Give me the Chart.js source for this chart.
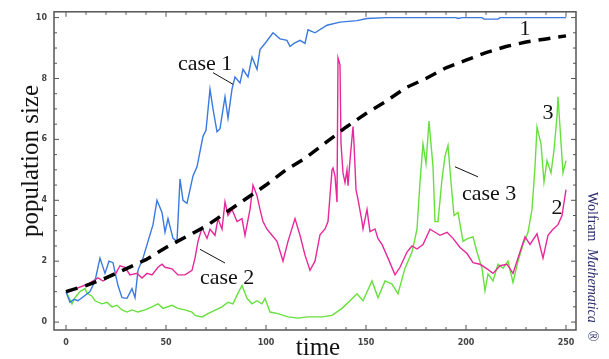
<!DOCTYPE html>
<html>
<head>
<meta charset="utf-8">
<script src="https://cdn.jsdelivr.net/npm/chart.js@4.4.1/dist/chart.umd.min.js"></script>
<style>
  body { margin: 0; background: #fff; }
  canvas { display: block; }
</style>
</head>
<body>
<canvas id="popChart" width="609" height="359"></canvas>
<script>
// values
const xTicks = [0, 50, 100, 150, 200, 250];
const yTicks = [0, 2, 4, 6, 8, 10];

const meanT = [0, 10, 20, 30, 40, 50, 60, 70, 80, 90, 100, 110, 120, 130, 140, 150, 160, 170, 180, 190, 200, 210, 220, 230, 240, 250];
const meanY = [1.0, 1.2, 1.45, 1.75, 2.05, 2.45, 2.8, 3.15, 3.6, 4.05, 4.5, 5.0, 5.4, 5.9, 6.4, 6.85, 7.25, 7.7, 8.0, 8.35, 8.6, 8.85, 9.05, 9.2, 9.3, 9.4];

const case1T = [0, 2, 4, 6, 9, 12, 14.5, 17, 19.5, 21.5, 23.5, 26, 28, 30.5, 33, 34.5, 36, 38.5, 41, 43.5, 45.5, 48, 49.5, 51, 53.5, 55.5, 57, 58.5, 60.5, 62, 63.5, 65.5, 68.5, 70, 72, 73.5, 75.5, 77, 79.5, 81, 83, 84.5, 87, 88.5, 91, 93, 95.5, 97, 99.5, 103.5, 107, 110.5, 112, 114, 117, 119.5, 121, 124.5, 130.5, 137, 145.5, 150.5, 160, 195, 196, 198, 208, 209, 216, 217, 250];
const case1Y = [1.0, 0.65, 0.75, 0.7, 0.85, 1.0, 1.35, 2.1, 1.6, 2.0, 1.95, 1.2, 0.8, 0.78, 1.1, 0.8, 1.7, 2.1, 2.65, 3.2, 4.0, 3.6, 2.95, 3.4, 2.75, 2.65, 4.7, 4.0, 3.9, 4.35, 4.8, 5.1, 6.1, 6.3, 7.65, 7.0, 6.25, 6.35, 7.4, 6.7, 7.65, 8.05, 7.85, 8.3, 8.05, 8.7, 8.3, 8.95, 9.15, 9.5, 9.3, 9.25, 9.05, 9.15, 9.25, 9.15, 9.6, 9.5, 9.75, 9.85, 9.9, 9.97, 10, 10, 9.97, 10, 10, 9.95, 9.95, 10, 10];

const case2T = [0.5, 5, 11, 16, 18.5, 21, 24.5, 27, 29.5, 32, 35.5, 38, 40.5, 43, 46, 48, 49.5, 53, 56, 59.5, 63, 64.5, 66, 68, 70.5, 72, 74.5, 76, 78, 79.5, 81, 83, 85.5, 88, 89.5, 92, 93.5, 95.5, 97, 98.5, 100.5, 103, 105.5, 108.5, 111, 114.5, 117, 119.5, 122, 124.5, 127, 129.5, 131, 133, 133.5, 134.5, 135.5, 136, 137, 137.5, 138.5, 139.5, 140.5, 141, 142, 143.5, 144, 145, 146, 148, 148.5, 150.5, 152, 154.5, 156, 158, 161, 164.5, 167, 170.5, 173, 175.5, 178.5, 182, 184.5, 187, 190.5, 193.5, 197, 200.5, 203.5, 207, 210.5, 213.5, 217, 220.5, 223.5, 227, 229.5, 232, 235.5, 238.5, 241, 243.5, 246, 248, 250];
const case2Y = [0.97, 1.1, 1.25, 1.45, 1.35, 1.45, 1.55, 1.85, 1.8, 1.55, 1.6, 1.45, 1.6, 1.55, 1.8, 1.9, 1.8, 1.75, 1.55, 1.55, 1.7, 2.1, 2.65, 3.1, 2.75, 3.05, 2.85, 3.4, 3.05, 3.95, 3.5, 3.7, 3.3, 3.4, 2.85, 3.7, 4.5, 4.15, 3.7, 3.3, 3.05, 2.85, 2.65, 2.0, 2.65, 3.4, 2.85, 2.2, 1.7, 2.0, 2.87, 3.06, 3.3, 5.0, 5.06, 4.8, 3.94, 8.68, 8.45, 5.87, 4.9, 4.58, 5.0, 4.48, 5.32, 6.42, 5.87, 4.35, 4.03, 3.3, 3.06, 3.7, 2.97, 3.06, 2.74, 2.55, 2.1, 1.55, 1.8, 2.3, 2.5, 2.4, 2.55, 3.05, 2.95, 2.85, 2.95, 2.75, 2.45, 2.25, 1.95, 1.9, 1.75, 1.6, 1.85, 1.9, 1.6, 2.3, 2.8, 2.55, 2.9, 2.1, 2.85, 3.05, 3.2, 3.5, 4.35];

const case3T = [0, 3, 4.5, 7, 9.5, 10.5, 13, 14.5, 18, 20.5, 23, 25.5, 28, 30.5, 33, 36, 39.5, 43, 46, 48.5, 53, 56, 59.5, 63, 64.5, 68, 71, 78, 81, 83.5, 86, 88, 90.5, 93, 95.5, 98, 99.5, 102, 106, 111, 116, 121, 128, 133, 138, 142, 145.5, 148.5, 153, 156, 159.5, 163, 166, 169.5, 173, 175.5, 177, 178.5, 180, 181.5, 183.5, 184.5, 186, 188, 189.5, 191, 192.5, 194, 196, 198.5, 201, 203.5, 205.5, 208, 209.5, 211, 213.5, 216, 218.5, 221, 223.5, 226, 228.5, 231, 233, 234.5, 235.5, 237.5, 239, 240.5, 242.5, 244, 245.5, 246, 247, 248.5, 250];
const case3Y = [1.0, 0.6, 0.8, 1.0, 1.1, 0.95, 0.85, 0.7, 0.6, 0.65, 0.5, 0.55, 0.4, 0.33, 0.4, 0.33, 0.4, 0.5, 0.6, 0.45, 0.55, 0.45, 0.4, 0.33, 0.22, 0.17, 0.28, 0.5, 0.65, 0.6, 0.95, 1.2, 0.78, 0.6, 0.7, 0.6, 0.78, 0.33, 0.28, 0.17, 0.13, 0.17, 0.17, 0.22, 0.45, 0.7, 0.93, 0.7, 1.35, 0.8, 1.35, 1.25, 0.93, 1.77, 2.3, 3.05, 4.6, 5.85, 5.2, 6.6, 5.1, 3.3, 3.3, 4.7, 5.45, 5.8, 4.6, 3.5, 3.6, 2.65, 2.75, 2.8, 2.3, 1.77, 1.03, 1.58, 1.35, 1.9, 1.77, 2.0, 1.3, 2.0, 2.55, 2.95, 3.7, 5.1, 6.4, 5.85, 4.6, 5.3, 4.9, 5.65, 6.75, 7.4, 6.4, 4.9, 5.3];

const toPoints = (ts, ys) => ts.map((t, i) => ({ x: t, y: ys[i] }));

// text labels placed in data coordinates
const notes = [
    { text: 'case 1', x: 56, y: 8.29, align: 'left' },
    { text: 'case 2', x: 67, y: 1.26, align: 'left' },
    { text: 'case 3', x: 198, y: 4.0, align: 'left' },
    { text: '1', x: 229.5, y: 9.42, align: 'center' },
    { text: '3', x: 241, y: 6.68, align: 'center' },
    { text: '2', x: 245.5, y: 3.55, align: 'center' }
];
const leaders = [
    [73.5, 8.19, 83.5, 7.81],
    [67, 2.39, 79.5, 1.94],
    [194.5, 5.1, 206, 4.77]
];

const serif = '"Liberation Serif", "Times New Roman", serif';

const framePlugin = {
    id: 'frame',
    afterDraw(chart) {
        const { ctx, chartArea: a, scales } = chart;
        const xs = scales.x, ys = scales.y;
        ctx.save();

        // frame
        ctx.strokeStyle = '#555';
        ctx.lineWidth = 1.5;
        ctx.strokeRect(a.left, a.top, a.right - a.left, a.bottom - a.top);

        // inward ticks
        ctx.lineWidth = 1;
        for (let t = 0; t <= 250; t += 10) {
            const px = xs.getPixelForValue(t);
            const len = t % 50 === 0 ? 5 : 3;
            ctx.beginPath();
            ctx.moveTo(px, a.bottom); ctx.lineTo(px, a.bottom - len);
            ctx.moveTo(px, a.top); ctx.lineTo(px, a.top + len);
            ctx.stroke();
        }
        for (let v = 0; v <= 10; v += 0.5) {
            const py = ys.getPixelForValue(v);
            const len = v % 2 === 0 ? 5 : 3;
            ctx.beginPath();
            ctx.moveTo(a.left, py); ctx.lineTo(a.left + len, py);
            ctx.moveTo(a.right, py); ctx.lineTo(a.right - len, py);
            ctx.stroke();
        }

        // axis titles
        ctx.fillStyle = '#111';
        ctx.font = '25px ' + serif;
        ctx.textAlign = 'center';
        ctx.textBaseline = 'alphabetic';
        ctx.fillText('time', (a.left + a.right) / 2 + 3, 355);
        ctx.save();
        ctx.translate(38, 161);
        ctx.rotate(-Math.PI / 2);
        ctx.fillText('population size', 0, 0);
        ctx.restore();

        // annotations
        ctx.font = '22px ' + serif;
        notes.forEach(n => {
            ctx.textAlign = n.align;
            ctx.fillText(n.text, xs.getPixelForValue(n.x), ys.getPixelForValue(n.y));
        });
        ctx.strokeStyle = '#111';
        ctx.lineWidth = 1;
        leaders.forEach(l => {
            ctx.beginPath();
            ctx.moveTo(xs.getPixelForValue(l[0]), ys.getPixelForValue(l[1]));
            ctx.lineTo(xs.getPixelForValue(l[2]), ys.getPixelForValue(l[3]));
            ctx.stroke();
        });

        // vertical credit
        ctx.save();
        ctx.translate(588, 192);
        ctx.rotate(Math.PI / 2);
        ctx.fillStyle = '#2b2d6e';
        ctx.textAlign = 'left';
        let cx = 0;
        ctx.font = '14px ' + serif;
        ctx.fillText('Wolfram ', cx, 0);
        cx += ctx.measureText('Wolfram ').width + 4;
        ctx.font = 'italic 14px ' + serif;
        ctx.fillText('Mathematica', cx, 0);
        cx += ctx.measureText('Mathematica').width + 8;
        ctx.font = '14px ' + serif;
        ctx.fillText('\u00AE', cx, 0);
        ctx.restore();

        ctx.restore();
    }
};

const ctx = document.getElementById('popChart');
new Chart(ctx, {
    type: 'line',
    data: {
        datasets: [
            { label: 'mean', data: toPoints(meanT, meanY), borderColor: '#000', borderWidth: 3.5, borderDash: [12, 8], borderCapStyle: 'butt' },
            { label: 'case 1', data: toPoints(case1T, case1Y), borderColor: '#3a7ae0', borderWidth: 1.4 },
            { label: 'case 2', data: toPoints(case2T, case2Y), borderColor: '#e6289a', borderWidth: 1.4 },
            { label: 'case 3', data: toPoints(case3T, case3Y), borderColor: '#66e03c', borderWidth: 1.4 }
        ]
    },
    options: {
        responsive: false,
        animation: false,
        events: [],
        layout: { padding: { top: 6, right: 33, left: 0, bottom: 0 } },
        elements: { point: { radius: 0 }, line: { tension: 0, fill: false } },
        plugins: { legend: { display: false }, tooltip: { enabled: false } },
        scales: {
            x: {
                type: 'linear',
                min: -6, max: 255,
                grid: { display: false, drawTicks: false },
                border: { display: false },
                afterFit: s => { s.height = 29; },
                afterBuildTicks: s => { s.ticks = xTicks.map(v => ({ value: v })); },
                ticks: { padding: 8, color: '#444', font: { family: 'DejaVu Sans', size: 8, weight: 'bold' }, maxRotation: 0 }
            },
            y: {
                type: 'linear',
                min: -0.26, max: 10.19,
                grid: { display: false, drawTicks: false },
                border: { display: false },
                afterFit: s => { s.width = 54; },
                afterBuildTicks: s => { s.ticks = yTicks.map(v => ({ value: v })); },
                ticks: { padding: 7, color: '#444', font: { family: 'DejaVu Sans', size: 8, weight: 'bold' } }
            }
        }
    },
    plugins: [framePlugin]
});
</script>
</body>
</html>
